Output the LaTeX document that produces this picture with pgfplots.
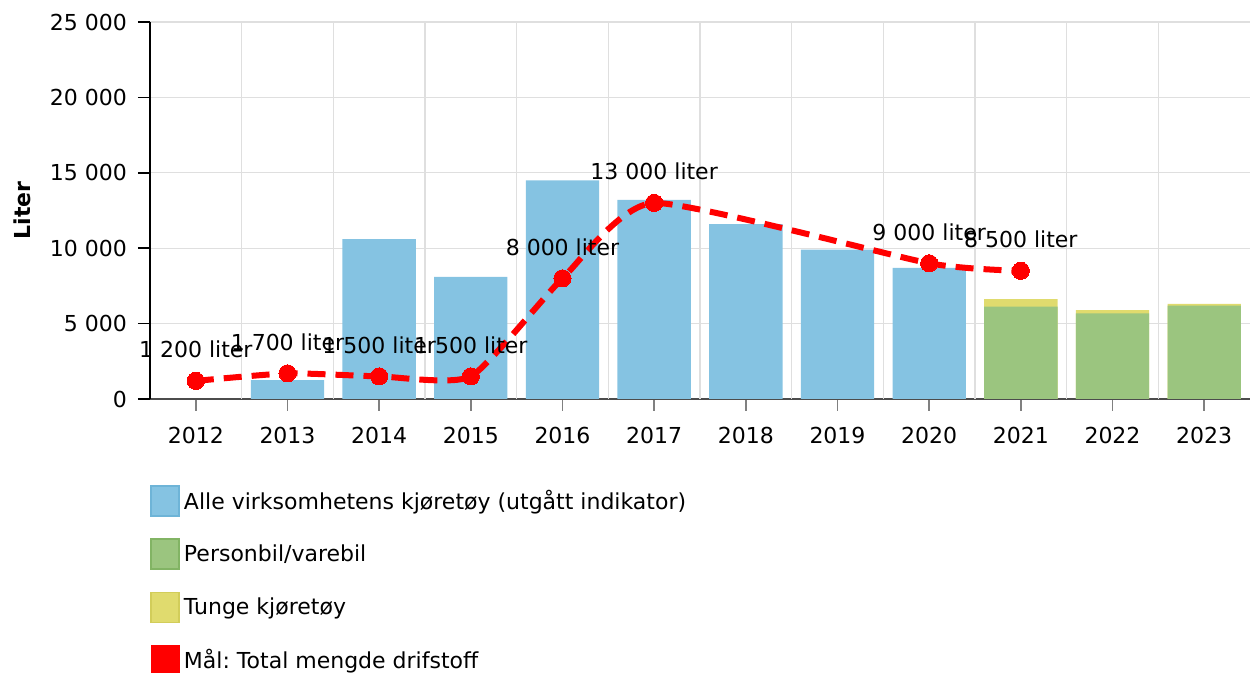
\documentclass[border=0pt]{standalone}
\usepackage{fontspec}
\setmainfont{DejaVu Sans}
\usepackage{pgfplots}
\pgfplotsset{compat=1.18}
\frenchspacing
\definecolor{cblue}{RGB}{133,195,226}
\definecolor{cbluedark}{RGB}{110,180,215}
\definecolor{cgreen}{RGB}{155,197,127}
\definecolor{cgreendark}{RGB}{130,180,100}
\definecolor{cyellow}{RGB}{224,219,110}
\definecolor{cyellowdark}{RGB}{210,205,90}
\begin{document}
\begin{tikzpicture}
\begin{axis}[
  at={(0,0)}, anchor=south west,
  scale only axis, width=550pt, height=188.5pt,
  font=\fontsize{11pt}{13pt}\selectfont,
  xmin=-0.5, xmax=11.5, ymin=0, ymax=25000,
  xtick={0,1,2,3,4,5,6,7,8,9,10,11},
  xticklabels={2012,2013,2014,2015,2016,2017,2018,2019,2020,2021,2022,2023},
  ytick={0,5000,10000,15000,20000,25000},
  extra x ticks={0.5,1.5,2.5,3.5,4.5,5.5,6.5,7.5,8.5,9.5,10.5},
  extra x tick labels={},
  extra x tick style={grid=major, major tick length=0pt, major grid style={gray!25, line width=0.6pt}},
  ymajorgrids,
  major grid style={gray!25, line width=0.6pt},
  axis lines=left, axis line style={-},
  x axis line style={black!70, line width=0.8pt},
  y axis line style={black, line width=0.8pt},
  tick align=outside,
  major tick length=6pt,
  xtick style={black!50, line width=0.8pt},
  ytick style={black, line width=0.8pt},
  scaled y ticks=false,
  /pgf/number format/1000 sep={\ },
  /pgf/number format/assume math mode=true,
  xticklabel style={yshift=-4.5pt},
  yticklabel style={xshift=-2pt},
  ylabel={\textbf{Liter}},
  every axis y label/.style={at={(axis description cs:0,0.5)}, xshift=-64pt, rotate=90, anchor=center},
  legend style={at={(0,-0.228)}, anchor=north west, draw=none, fill=none,
    inner sep=0pt, row sep=10.75pt, font=\fontsize{11pt}{13pt}\selectfont,
    nodes={inner sep=2pt}},
  legend cell align=left,
]
\addplot[ybar, bar width=0.8, bar shift=0pt, fill=cblue, draw=none, forget plot]
  coordinates {(1,1250)(2,10600)(3,8100)(4,14500)(5,13200)(6,11600)(7,9900)(8,8700)};
\addplot[ybar, bar width=0.8, bar shift=0pt, fill=cyellow, draw=none, forget plot]
  coordinates {(9,6630)(10,5900)(11,6300)};
\addplot[ybar, bar width=0.8, bar shift=0pt, fill=cgreen, draw=none, forget plot]
  coordinates {(9,6120)(10,5680)(11,6190)};
\addplot[red, line width=3pt, dash pattern=on 9pt off 5pt, smooth, tension=0.33,
  mark=*, mark size=4.3pt, mark options={solid, fill=red, draw=red, line width=0pt},
  nodes near coords, point meta=explicit symbolic,
  every node near coord/.style={font=\fontsize{11pt}{13pt}\selectfont, black, anchor=south, yshift=8pt},
  forget plot]
  coordinates {(0,1200)[1 200 liter] (1,1700)[1 700 liter] (2,1500)[1 500 liter] (3,1500)[1 500 liter]
   (4,8000)[8 000 liter] (5,13000)[13 000 liter] (8,9000)[9 000 liter] (9,8500)[8 500 liter]};
\addlegendimage{legend image code/.code={\draw[fill=cblue,draw=cbluedark,line width=0.8pt] (0pt,-7.5pt) rectangle (14pt,7.5pt);}}
\addlegendentry{Alle virksomhetens kjøretøy (utgått indikator)}
\addlegendimage{legend image code/.code={\draw[fill=cgreen,draw=cgreendark,line width=0.8pt] (0pt,-7.5pt) rectangle (14pt,7.5pt);}}
\addlegendentry{Personbil/varebil}
\addlegendimage{legend image code/.code={\draw[fill=cyellow,draw=cyellowdark,line width=0.8pt] (0pt,-7.5pt) rectangle (14pt,7.5pt);}}
\addlegendentry{Tunge kjøretøy}
\addlegendimage{legend image code/.code={\fill[red] (0pt,-7.5pt) rectangle (14pt,7.5pt);}}
\addlegendentry{Mål: Total mengde drifstoff}
\end{axis}
\pgfresetboundingbox
\path[use as bounding box] (-75pt,-137pt) rectangle (552.5pt,199.5pt);
\end{tikzpicture}
\end{document}
